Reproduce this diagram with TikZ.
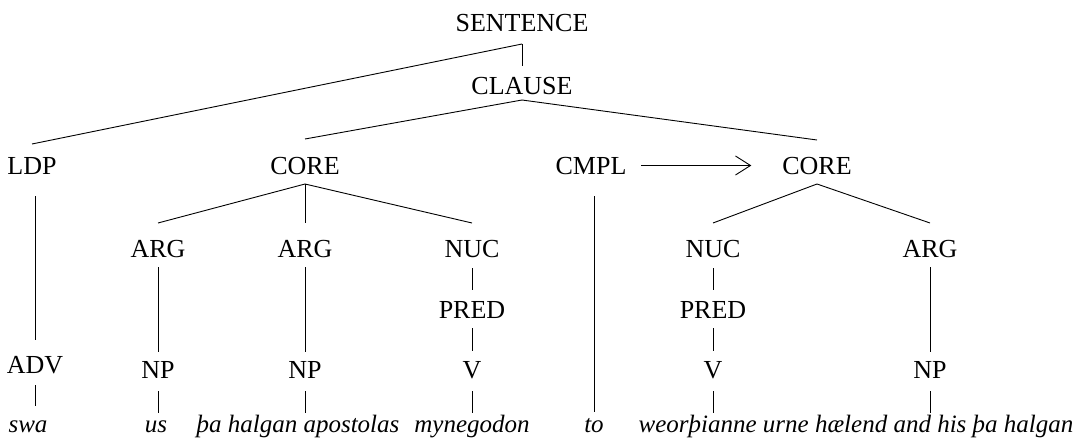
\documentclass[tikz,border=0pt]{standalone}
\usepackage{fontspec}
\setmainfont{Liberation Serif}
\usetikzlibrary{arrows.meta}
\begin{document}
\begin{tikzpicture}[x=1pt,y=-1pt,
  cat/.style={font=\fontsize{26}{31}\selectfont, inner sep=0pt, outer sep=0pt,
    anchor=base, text height=17pt, text depth=0pt},
  word/.style={font=\fontsize{25}{30}\selectfont\itshape, inner sep=0pt, outer sep=0pt,
    anchor=base, text height=11pt, text depth=5pt},
  branch/.style={line width=0.9pt},
  stem/.style={line width=0.9pt, shorten <=#1},
  stem/.default=11pt]
\useasboundingbox (0,0) rectangle (1076,441);

% categories
\node[cat] (sentence) at (522,32) {SENTENCE};
\node[cat] (clause)   at (522,95) {CLAUSE};
\node[cat] (ldp)      at (32,174) {LDP};
\node[cat] (corel)    at (305,174) {CORE};
\node[cat] (cmpl)     at (591,174) {CMPL};
\node[cat] (corer)    at (817,174) {CORE};
\node[cat] (arga)     at (158,257) {ARG};
\node[cat] (argb)     at (305,257) {ARG};
\node[cat] (nucl)     at (472,257) {NUC};
\node[cat] (nucr)     at (713,257) {NUC};
\node[cat] (argr)     at (930,257) {ARG};
\node[cat] (predl)    at (472,318) {PRED};
\node[cat] (predr)    at (713,318) {PRED};
\node[cat] (adv)      at (35,373) {ADV};
\node[cat] (npa)      at (158,378) {NP};
\node[cat] (npb)      at (305,378) {NP};
\node[cat] (vl)       at (472,378) {V};
\node[cat] (vr)       at (713,378) {V};
\node[cat] (npr)      at (930,378) {NP};

% words
\node[word] (swa)  at (28,432)  {swa};
\node[word] (us)   at (156,432) {us};
\node[word] (tha)  at (298,432) {þa halgan apostolas};
\node[word] (myn)  at (472,432) {mynegodon};
\node[word] (to)   at (594,432) {to};
\node[word] (weor) at (856,432) {weorþianne urne hælend and his þa halgan};

% branching points
\coordinate (sentence-b) at ([yshift=-12pt]sentence.south);
\coordinate (clause-b)   at ([yshift=-5pt]clause.south);
\coordinate (corel-b)    at ([yshift=-10pt]corel.south);
\coordinate (corer-b)    at ([yshift=-10pt]corer.south);

\draw[branch] (sentence-b) -- ([yshift=13pt]ldp.north);
\draw[branch] (sentence-b) -- ([yshift=12pt]clause.north);
\draw[branch] (clause-b) -- ([yshift=18pt]corel.north);
\draw[branch] (clause-b) -- ([yshift=17pt]corer.north);
\draw[branch] (corel-b) -- ([yshift=17pt]arga.north);
\draw[branch] (corel-b) -- ([yshift=17pt]argb.north);
\draw[branch] (corel-b) -- ([yshift=17pt]nucl.north);
\draw[branch] (corer-b) -- ([yshift=17pt]nucr.north);
\draw[branch] (corer-b) -- ([yshift=17pt]argr.north);

% single-daughter stems
\draw[stem=22pt, shorten >=16pt] (ldp.south -| adv.north) -- (adv.north);
\draw[stem=12pt, shorten >=15pt] (adv.south) -- (adv.south |- swa.north);
\draw[stem=10pt, shorten >=9pt] (arga.south) -- (npa.north);
\draw[stem=10pt, shorten >=9pt] (argb.south) -- (npb.north);
\draw[stem=10pt, shorten >=9pt] (argr.south) -- (npr.north);
\draw[stem=11pt, shorten >=11pt] (nucl.south) -- (predl.north);
\draw[stem=11pt, shorten >=11pt] (nucr.south) -- (predr.north);
\draw[stem=10pt, shorten >=10pt] (predl.south) -- (vl.north);
\draw[stem=10pt, shorten >=10pt] (predr.south) -- (vr.north);
\draw[stem=13pt, shorten >=8pt] (npa.south) -- (npa.south |- us.north);
\draw[stem=13pt, shorten >=8pt] (npb.south) -- (npb.south |- tha.north);
\draw[stem=13pt, shorten >=8pt] (vl.south) -- (vl.south |- myn.north);
\draw[stem=13pt, shorten >=8pt] (vr.south) -- (vr.south |- weor.north);
\draw[stem=13pt, shorten >=8pt] (npr.south) -- (npr.south |- weor.north);
\draw[stem=22pt, shorten >=9pt] (cmpl.south -| to.north) -- (to.north);

% complementizer arrow
\draw[line width=0.9pt, -{Straight Barb[length=15pt, width=19pt]},
  shorten <=15pt, shorten >=31pt] (cmpl.east) -- (corer.west);
\end{tikzpicture}
\end{document}
